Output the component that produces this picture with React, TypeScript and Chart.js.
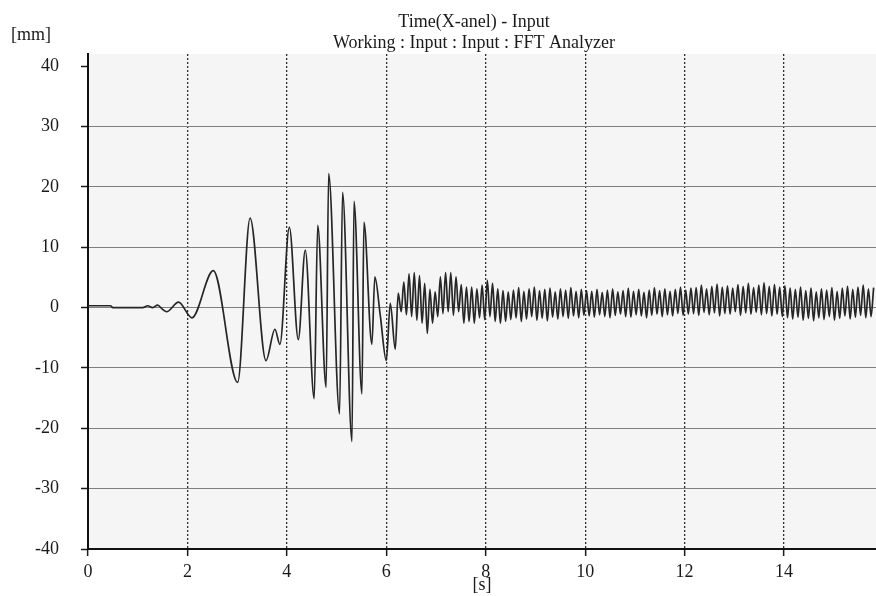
import React, { useEffect, useRef } from 'react';
import { Chart, registerables } from 'chart.js';

Chart.register(...registerables);

// ---- data ----
const xTickValues = [0, 2, 4, 6, 8, 10, 12, 14];
const yTickValues = [-40, -30, -20, -10, 0, 10, 20, 30, 40];

const titleLine1 = 'Time(X-anel) - Input';
const titleLine2 = 'Working : Input : Input : FFT Analyzer';
const yUnit = '[mm]';
const xUnit = '[s]';

// transient part (time [s], displacement [mm])
const earlyT = [0, 0.45, 0.5, 1.1, 1.2, 1.3, 1.4, 1.5, 1.58, 1.82, 2.09, 2.52, 3.01, 3.26, 3.58, 3.76, 3.86, 4.05, 4.23, 4.37, 4.55, 4.62, 4.79, 4.84, 5.06, 5.12, 5.31, 5.35, 5.51, 5.55, 5.71, 5.77, 5.88, 6.0, 6.08, 6.18, 6.24];
const earlyV = [0.3, 0.3, 0, 0, 0.3, 0, 0.4, -0.3, -0.7, 0.9, -1.7, 6.1, -12.4, 14.8, -8.8, -3.6, -6.1, 13.3, -5.3, 9.5, -15.1, 13.6, -13.2, 22.2, -17.6, 19.1, -22.2, 17.6, -14.3, 14.1, -6.1, 5.1, -1.4, -8.8, 0.7, -6.9, 2.4];

// steady oscillation part: alternating trough / peak samples
const denseStart = 6.3;
const denseHalfStep = 0.0525;
const denseTroughs = [
  -0.7, -1.2, -1.5, -2.1, -2.6, -4.3, -2.6, -1.5, -1.0, -0.7, -1.3, -0.7, -2.6, -2.3, -2.6, -1.7, -2.0, -1.5, -2.3, -2.6, -2.3,
  -2.0, -1.7, -2.3, -1.9, -1.5, -2.1, -1.8, -2.2, -1.6, -1.9, -1.5, -1.8, -1.4, -1.7, -1.3,
  -1.4, -1.6, -1.2, -1.5, -1.7, -1.3, -1.1, -1.5, -1.6, -1.2, -1.4, -1.7, -1.3, -1.1, -1.5, -1.2, -1.4, -1.0, -1.3, -1.1,
  -1.0, -1.3, -0.8, -1.2, -0.9, -1.4, -1.0, -1.1, -0.7, -1.3, -0.9, -1.1, -0.8, -1.2, -1.0, -1.4, -1.1, -1.5, -1.7,
  -1.9, -1.6, -2.1, -1.8, -2.2, -1.7, -2.0, -1.5, -2.1, -1.8, -1.4, -1.9, -1.6, -1.3, -1.7, -1.5,
];
const densePeaks = [
  4.2, 5.6, 5.8, 5.3, 4.0, 3.0, 2.6, 5.1, 5.8, 5.8, 5.1, 3.8, 3.4, 3.4, 3.1, 3.7, 4.5, 4.0, 3.1, 2.8, 2.6,
  2.9, 3.3, 2.7, 3.1, 3.4, 2.8, 3.0, 3.2, 2.6, 3.1, 2.9, 3.3, 2.7, 3.0, 2.8,
  2.7, 3.0, 2.5, 2.9, 3.1, 2.6, 2.8, 3.2, 2.7, 3.0, 2.5, 2.9, 3.3, 2.8, 3.1, 2.7, 3.0, 3.4, 2.9, 3.2,
  3.3, 3.7, 3.1, 3.5, 3.9, 3.4, 3.6, 3.2, 3.8, 3.5, 4.0, 3.3, 3.7, 4.1, 3.5, 3.8, 3.4, 3.6, 3.2,
  3.0, 3.4, 2.8, 3.2, 2.6, 3.1, 2.9, 3.3, 2.7, 3.2, 3.5, 3.0, 3.4, 3.7, 3.1, 3.3,
];

const xMin = 0;
const xMax = 15.85;
const yMin = -40;
const yMax = 42;

const FONT = "'Liberation Serif', 'Times New Roman', serif";

function buildPoints() {
  const pts: { x: number; y: number }[] = [];
  for (let i = 0; i < earlyT.length; i++) pts.push({ x: earlyT[i], y: earlyV[i] });
  for (let i = 0; i < denseTroughs.length; i++) {
    pts.push({ x: denseStart + 2 * i * denseHalfStep, y: denseTroughs[i] });
    pts.push({ x: denseStart + (2 * i + 1) * denseHalfStep, y: densePeaks[i] });
  }
  return pts;
}

const decorPlugin = {
  id: 'decor',
  beforeDraw(chart: any) {
    const { ctx, chartArea } = chart;
    ctx.save();
    ctx.fillStyle = '#f5f5f5';
    ctx.fillRect(chartArea.left, chartArea.top, chartArea.right - chartArea.left, chartArea.bottom - chartArea.top);
    ctx.restore();
  },
  afterDraw(chart: any) {
    const { ctx } = chart;
    ctx.save();
    ctx.fillStyle = '#1a1a1a';
    ctx.font = `18px ${FONT}`;
    ctx.textBaseline = 'middle';
    ctx.textAlign = 'center';
    ctx.fillText(titleLine1, 474, 22);
    ctx.fillText(titleLine2, 474, 43);
    ctx.textAlign = 'left';
    ctx.fillText(yUnit, 11, 35);
    ctx.restore();
  },
};

export default function App() {
  const ref = useRef<HTMLCanvasElement | null>(null);

  useEffect(() => {
    document.body.style.margin = '0';
    const canvas = ref.current;
    if (!canvas) return;
    const chart = new Chart(canvas, {
      type: 'line',
      data: {
        datasets: [
          {
            data: buildPoints(),
            borderColor: '#262626',
            borderWidth: 1.7,
            pointRadius: 0,
            cubicInterpolationMode: 'monotone',
            fill: false,
          },
        ],
      },
      options: {
        responsive: false,
        animation: false,
        devicePixelRatio: 1,
        layout: { padding: { top: 54, left: 0, right: 0, bottom: 0 } },
        plugins: {
          legend: { display: false },
          tooltip: { enabled: false },
          title: { display: false },
        },
        scales: {
          x: {
            type: 'linear',
            min: xMin,
            max: xMax,
            afterFit: (scale: any) => {
              scale.height = 47;
            },
            afterBuildTicks: (scale: any) => {
              scale.ticks = xTickValues.map((v) => ({ value: v }));
            },
            ticks: {
              font: { family: FONT, size: 18 },
              color: '#1a1a1a',
              padding: 5,
              maxRotation: 0,
              autoSkip: false,
              callback: (v: any) => String(v),
            },
            grid: {
              color: (c: any) => (c.tick && c.tick.value === 0 ? 'rgba(0,0,0,0)' : '#2e2e2e'),
              lineWidth: 1.3,
              tickColor: '#1a1a1a',
              tickLength: 7,
              tickWidth: 1.5,
            },
            border: { display: true, color: '#111', width: 2, dash: [2, 2] },
            title: {
              display: true,
              text: xUnit,
              font: { family: FONT, size: 18 },
              color: '#1a1a1a',
              padding: { top: 0, bottom: 0 },
            },
          },
          y: {
            type: 'linear',
            min: yMin,
            max: yMax,
            afterFit: (scale: any) => {
              scale.width = 88;
            },
            afterBuildTicks: (scale: any) => {
              scale.ticks = yTickValues.map((v) => ({ value: v }));
            },
            ticks: {
              font: { family: FONT, size: 18 },
              color: '#1a1a1a',
              padding: 22,
              callback: (v: any) => String(v),
            },
            grid: {
              color: (c: any) =>
                c.tick && (c.tick.value === 40 || c.tick.value === -40) ? 'rgba(0,0,0,0)' : '#7f7f7f',
              lineWidth: 1,
              tickColor: '#1a1a1a',
              tickLength: 7,
              tickWidth: 1.5,
            },
            border: { display: true, color: '#111', width: 2 },
          },
        },
      },
      plugins: [decorPlugin],
    });
    return () => chart.destroy();
  }, []);

  return (
    <div style={{ width: 876, height: 596, background: '#ffffff' }}>
      <canvas ref={ref} width={876} height={596} style={{ display: 'block' }} />
    </div>
  );
}
